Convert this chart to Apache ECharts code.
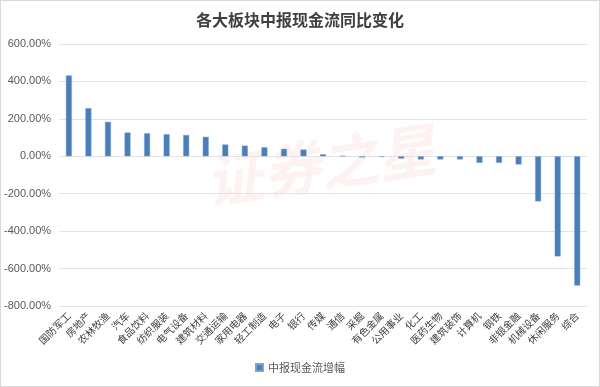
<!DOCTYPE html>
<html>
<head>
<meta charset="utf-8">
<script src="https://cdn.jsdelivr.net/npm/echarts@6/dist/echarts.min.js"></script>
<style>
html,body{margin:0;padding:0;background:#fff;}
#c{width:598px;height:385px;border:1px solid #d9d9d9;}
</style>
</head>
<body>
<div id="c"></div>
<script>
const categories = ['国防军工','房地产','农林牧渔','汽车','食品饮料','纺织服装','电气设备','建筑材料','交通运输','家用电器','轻工制造','电子','银行','传媒','通信','采掘','有色金属','公用事业','化工','医药生物','建筑装饰','计算机','钢铁','非银金融','机械设备','休闲服务','综合'];
const growth = [432,257,184,127,123,118,114,104,63,57,48,40,36,11,3,-6,-3,-12,-17,-17,-17,-35,-35,-44,-241,-535,-691];
const yTicks = {min:-800, max:600, interval:200};

const chart = echarts.init(document.getElementById('c'));
const cjk = '"Noto Sans CJK SC", "Noto Sans", sans-serif';
chart.setOption({
  animation:false,
  title:{text:'各大板块中报现金流同比变化', left:'center', top:6,
    textStyle:{fontFamily:cjk, fontSize:16, fontWeight:'bold', color:'#404040'}},
  graphic:[{type:'text', left:200, top:118, rotation:0.15, silent:true,
    style:{text:'证券之星', fontFamily:cjk, fontSize:58, fontStyle:'italic', fontWeight:'bold',
      fill:'rgba(235,120,120,0.10)'}}],
  grid:{left:53, right:12, top:43, bottom:80},
  legend:{bottom:8, left:'center', icon:'rect', itemWidth:7, itemHeight:7, itemGap:4,
    textStyle:{fontFamily:cjk, fontSize:11, color:'#595959'}},
  xAxis:{type:'category', data:categories,
    axisLine:{show:false}, axisTick:{show:false},
    axisLabel:{rotate:45, interval:0, fontFamily:cjk, fontSize:10, color:'#404040', margin:8}},
  yAxis:{type:'value', min:yTicks.min, max:yTicks.max, interval:yTicks.interval,
    axisLine:{show:false}, axisTick:{show:false},
    axisLabel:{formatter:v=>v.toFixed(2)+'%', fontFamily:'"Liberation Sans", Arial, sans-serif', fontSize:11, color:'#595959', margin:8},
    splitLine:{lineStyle:{color:'#e3e3e3', width:1}}},
  series:[{name:'中报现金流增幅', type:'bar', data:growth, barWidth:6,
    itemStyle:{color:'#4a7ebb', borderColor:'#7aa3d6', borderWidth:0.5}}]
});
</script>
</body>
</html>
